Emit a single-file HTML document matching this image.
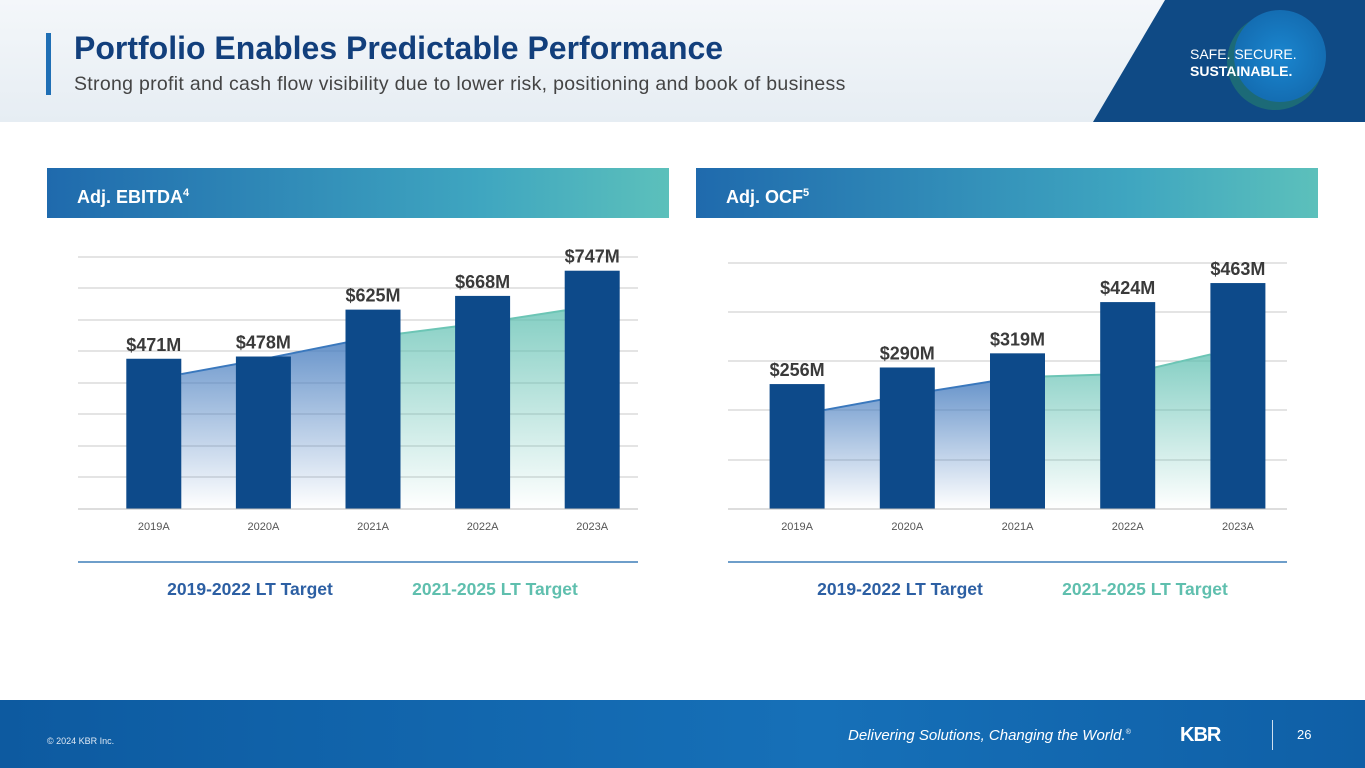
<!DOCTYPE html>
<html><head><meta charset="utf-8">
<style>
body{margin:0;width:1365px;height:768px;overflow:hidden;background:#fff;font-family:"Liberation Sans",sans-serif;position:relative}
.abs{position:absolute}
</style></head><body>
<div class="abs" style="left:0;top:0;width:1365px;height:122px;background:linear-gradient(180deg,#f4f7fa,#e6edf3)"></div>
<div class="abs" style="left:46px;top:33px;width:5px;height:62px;background:#1f6fb5"></div>
<div class="abs" style="left:74px;top:30px;font-size:32px;font-weight:bold;color:#123f7c">Portfolio Enables Predictable Performance</div>
<div class="abs" style="left:74px;top:73px;font-size:19.5px;letter-spacing:0.3px;color:#444">Strong profit and cash flow visibility due to lower risk, positioning and book of business</div>
<svg class="abs" style="left:1080px;top:0" width="285" height="122">
<defs><radialGradient id="cg"><stop offset="0" stop-color="#1a86cf"/><stop offset="1" stop-color="#146db2"/></radialGradient></defs>
<polygon points="85,0 285,0 285,122 13,122" fill="#0f4a85"/>
<circle cx="195" cy="62" r="48" fill="#2a8a6a" opacity="0.5"/>
<circle cx="200" cy="56" r="46" fill="url(#cg)"/>
<text x="110" y="59" fill="#fff" font-size="14">SAFE. SECURE.</text>
<text x="110" y="76" fill="#fff" font-size="14" font-weight="bold">SUSTAINABLE.</text>
</svg>
<div class="abs" style="left:47px;top:168px;width:622px;height:50px;background:linear-gradient(90deg,#1f6aad,#3fa6c0 70%,#5cc0bb);color:#fff;font-weight:bold;font-size:18px;line-height:50px;padding-left:30px;box-sizing:border-box">Adj. EBITDA<sup style="font-size:11px">4</sup></div>
<div class="abs" style="left:696px;top:168px;width:622px;height:50px;background:linear-gradient(90deg,#1f6aad,#3fa6c0 70%,#5cc0bb);color:#fff;font-weight:bold;font-size:18px;line-height:50px;padding-left:30px;box-sizing:border-box">Adj. OCF<sup style="font-size:11px">5</sup></div>
<svg class="abs" id="chart" style="left:0;top:0" width="1365" height="700"></svg>
<div class="abs" style="left:0;top:700px;width:1365px;height:68px;background:linear-gradient(90deg,#0d5aa0,#1670b8 60%,#0f5fa6)"></div>
<div class="abs" style="left:47px;top:736px;font-size:9px;color:#dfe9f4">© 2024 KBR Inc.</div>
<div class="abs" style="left:848px;top:727px;font-size:15px;font-style:italic;color:#fff">Delivering Solutions, Changing the World.<sup style="font-size:7px">®</sup></div>
<div class="abs" style="left:1180px;top:724px;font-size:20px;font-weight:bold;color:#fff;letter-spacing:-1px">KBR</div>
<div class="abs" style="left:1272px;top:720px;width:1px;height:30px;background:#cfe0f0"></div>
<div class="abs" style="left:1297px;top:727px;font-size:13px;color:#fff">26</div>
<script>
const years=["2019A","2020A","2021A","2022A","2023A"];
const ebitda=[471,478,625,668,747];
const ebitdaTarget=[423,470,539,583,636];
const ocf=[256,290,319,424,463];
const ocfTarget=[203,234,270,277,330];
const NS="http://www.w3.org/2000/svg";
const svg=document.getElementById('chart');
function mk(t,a){const e=document.createElementNS(NS,t);for(const k in a)e.setAttribute(k,a[k]);svg.appendChild(e);return e;}
const defs=mk('defs',{});
defs.innerHTML='<linearGradient id="gb" x1="0" y1="0" x2="0" y2="1"><stop offset="0" stop-color="#4a7fc0" stop-opacity="0.85"/><stop offset="1" stop-color="#4a7fc0" stop-opacity="0"/></linearGradient><linearGradient id="gt" x1="0" y1="0" x2="0" y2="1"><stop offset="0" stop-color="#5dbfb0" stop-opacity="0.75"/><stop offset="1" stop-color="#5dbfb0" stop-opacity="0"/></linearGradient>';
function chart(cfg){
 const {x0,x1,b0,b1,base,scale,grid,vals,tgt,prefix}=cfg;
 const y=v=>base-v*scale;
 const step=(b1-b0)/5, cx=i=>b0+step*(i+0.5), bw=55;
 grid.forEach(gy=>{const l=mk('line',{x1:x0,x2:x1,y1:gy,y2:gy,stroke:'#c8c8c8','stroke-width':1});
  });
 const tx=i=>i===0?cx(0)+bw/2:(i===4?cx(4)-bw/2:cx(i));
 const ty=i=>{if(i===4){const a=y(tgt[3]),b=y(tgt[4]);return a+(b-a)*((tx(4)-cx(3))/step);}return y(tgt[i]);};
 function area(idx,fill,stroke,name){
  let d='M'+tx(idx[0])+','+base;idx.forEach(i=>d+=' L'+tx(i)+','+ty(i));d+=' L'+tx(idx[idx.length-1])+','+base+' Z';
  const p=mk('path',{d:d,fill:fill});
  let dl='M'+idx.map(i=>tx(i)+','+ty(i)).join(' L');
  const l=mk('path',{d:dl,fill:'none',stroke:stroke,'stroke-width':2});
 }
 area([2,3,4],'url(#gt)','#6cc5b5',prefix+'-2021-2025-target');
 area([0,1,2],'url(#gb)','#3a78bd',prefix+'-2019-2022-target');
 vals.forEach((v,i)=>{
  const r=mk('rect',{x:cx(i)-bw/2,y:y(v),width:bw,height:base-y(v),fill:'#0d4a8a'});
  
  const t=mk('text',{x:cx(i),y:y(v)-8,'text-anchor':'middle','font-size':18,'font-weight':'bold',fill:'#3a3a3a'});t.textContent='$'+v+'M';
  
  const c=mk('text',{x:cx(i),y:base+21,'text-anchor':'middle','font-size':11,fill:'#555'});c.textContent=years[i];
  
 });
 const bl=mk('line',{x1:x0,x2:x1,y1:base,y2:base,stroke:'#bbb'});
 const sl=mk('line',{x1:x0,x2:x1,y1:562,y2:562,stroke:'#3f7fb8','stroke-width':1.5});
 const l1=mk('text',{x:x0+172,y:595,'text-anchor':'middle','font-size':17.5,'font-weight':'bold',fill:'#2c5fa3'});l1.textContent='2019-2022 LT Target';
 
 const l2=mk('text',{x:x0+417,y:595,'text-anchor':'middle','font-size':17.5,'font-weight':'bold',fill:'#5fbfae'});l2.textContent='2021-2025 LT Target';
 
}
chart({x0:78,x1:638,b0:99,b1:647,base:509,scale:0.319,grid:[257,288,320,351,383,414,446,477],vals:ebitda,tgt:ebitdaTarget,prefix:'ebitda'});
chart({x0:728,x1:1287,b0:742,b1:1293,base:509,scale:0.488,grid:[263,312,361,410,460],vals:ocf,tgt:ocfTarget,prefix:'ocf'});
</script>
</body></html>
